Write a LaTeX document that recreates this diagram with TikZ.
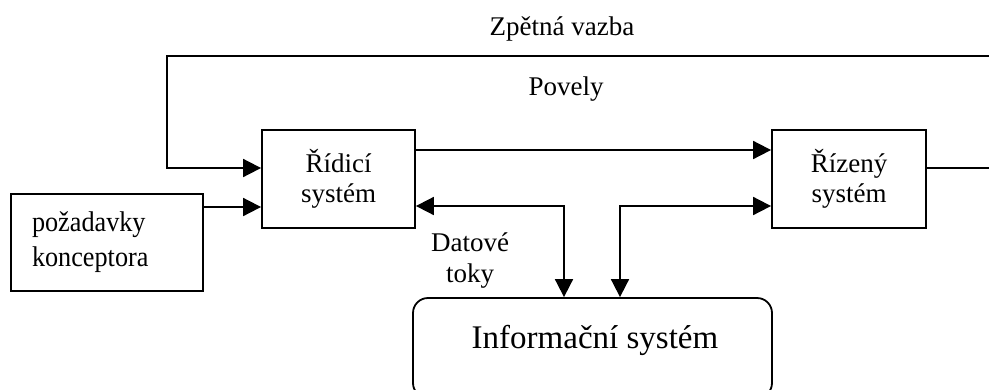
\documentclass[tikz,border=0pt]{standalone}
\usepackage{fontspec}
\setmainfont{Liberation Serif}
\newfontfamily\pozfont[FakeStretch=0.92]{Liberation Serif}
\usetikzlibrary{arrows.meta}

\begin{document}
\begin{tikzpicture}[x=1pt,y=-1pt,
	main/.style = {draw, line width=1.8pt, align=center, font=\fontsize{27}{30}\selectfont},
	lbl/.style = {font=\fontsize{27}{31}\selectfont},
	arr/.style = {line width=1.8pt, -{Triangle[length=18pt,width=18pt]}},
	arr2/.style = {line width=1.8pt, {Triangle[length=18pt,width=18pt]}-{Triangle[length=18pt,width=18pt]}}]
	\useasboundingbox (0,0) rectangle (989,389);
	\node[main, minimum width=153pt, minimum height=98pt] (1) at (338.5,179) {Řídicí\\systém};
	\node[main, minimum width=154pt, minimum height=98pt] (2) at (849,179) {Řízený\\systém};
	\node[main, font=\pozfont\fontsize{28.5}{35}\selectfont, align=left, text width=150pt, inner xsep=21pt, minimum height=97pt] (3) at (107,242.5) {požadavky\\konceptora};
	\node[main, rounded corners=15pt, minimum width=359pt, minimum height=100pt] (4) at (592.5,348) {};
	\node[font=\fontsize{33}{38}\selectfont, anchor=base] (5) at (595,348) {Informační systém};
	\node[lbl, anchor=base] (6) at (562,35) {Zpětná vazba};
	\node[lbl, anchor=base] (7) at (566,95) {Povely};
	\node[lbl, align=center] (8) at (470,261) {Datové\\toky};
	\coordinate (fb) at (995,56);
	\coordinate (fbl) at (167,56);
	\draw[arr] ([yshift=29]1.east) -- ([yshift=29]2.west);
	\draw[arr] ([yshift=35.5]3.east) -- ([yshift=-28]1.west);
	\draw[arr] ([yshift=11]2.east) -| (fb) -- (fbl) |- ([yshift=11]1.west);
	\draw[arr2] ([yshift=-27]1.east) -| ([xshift=-28.5]4.north);
	\draw[arr2] ([yshift=-27]2.west) -| ([xshift=27.5]4.north);
\end{tikzpicture}
\end{document}
